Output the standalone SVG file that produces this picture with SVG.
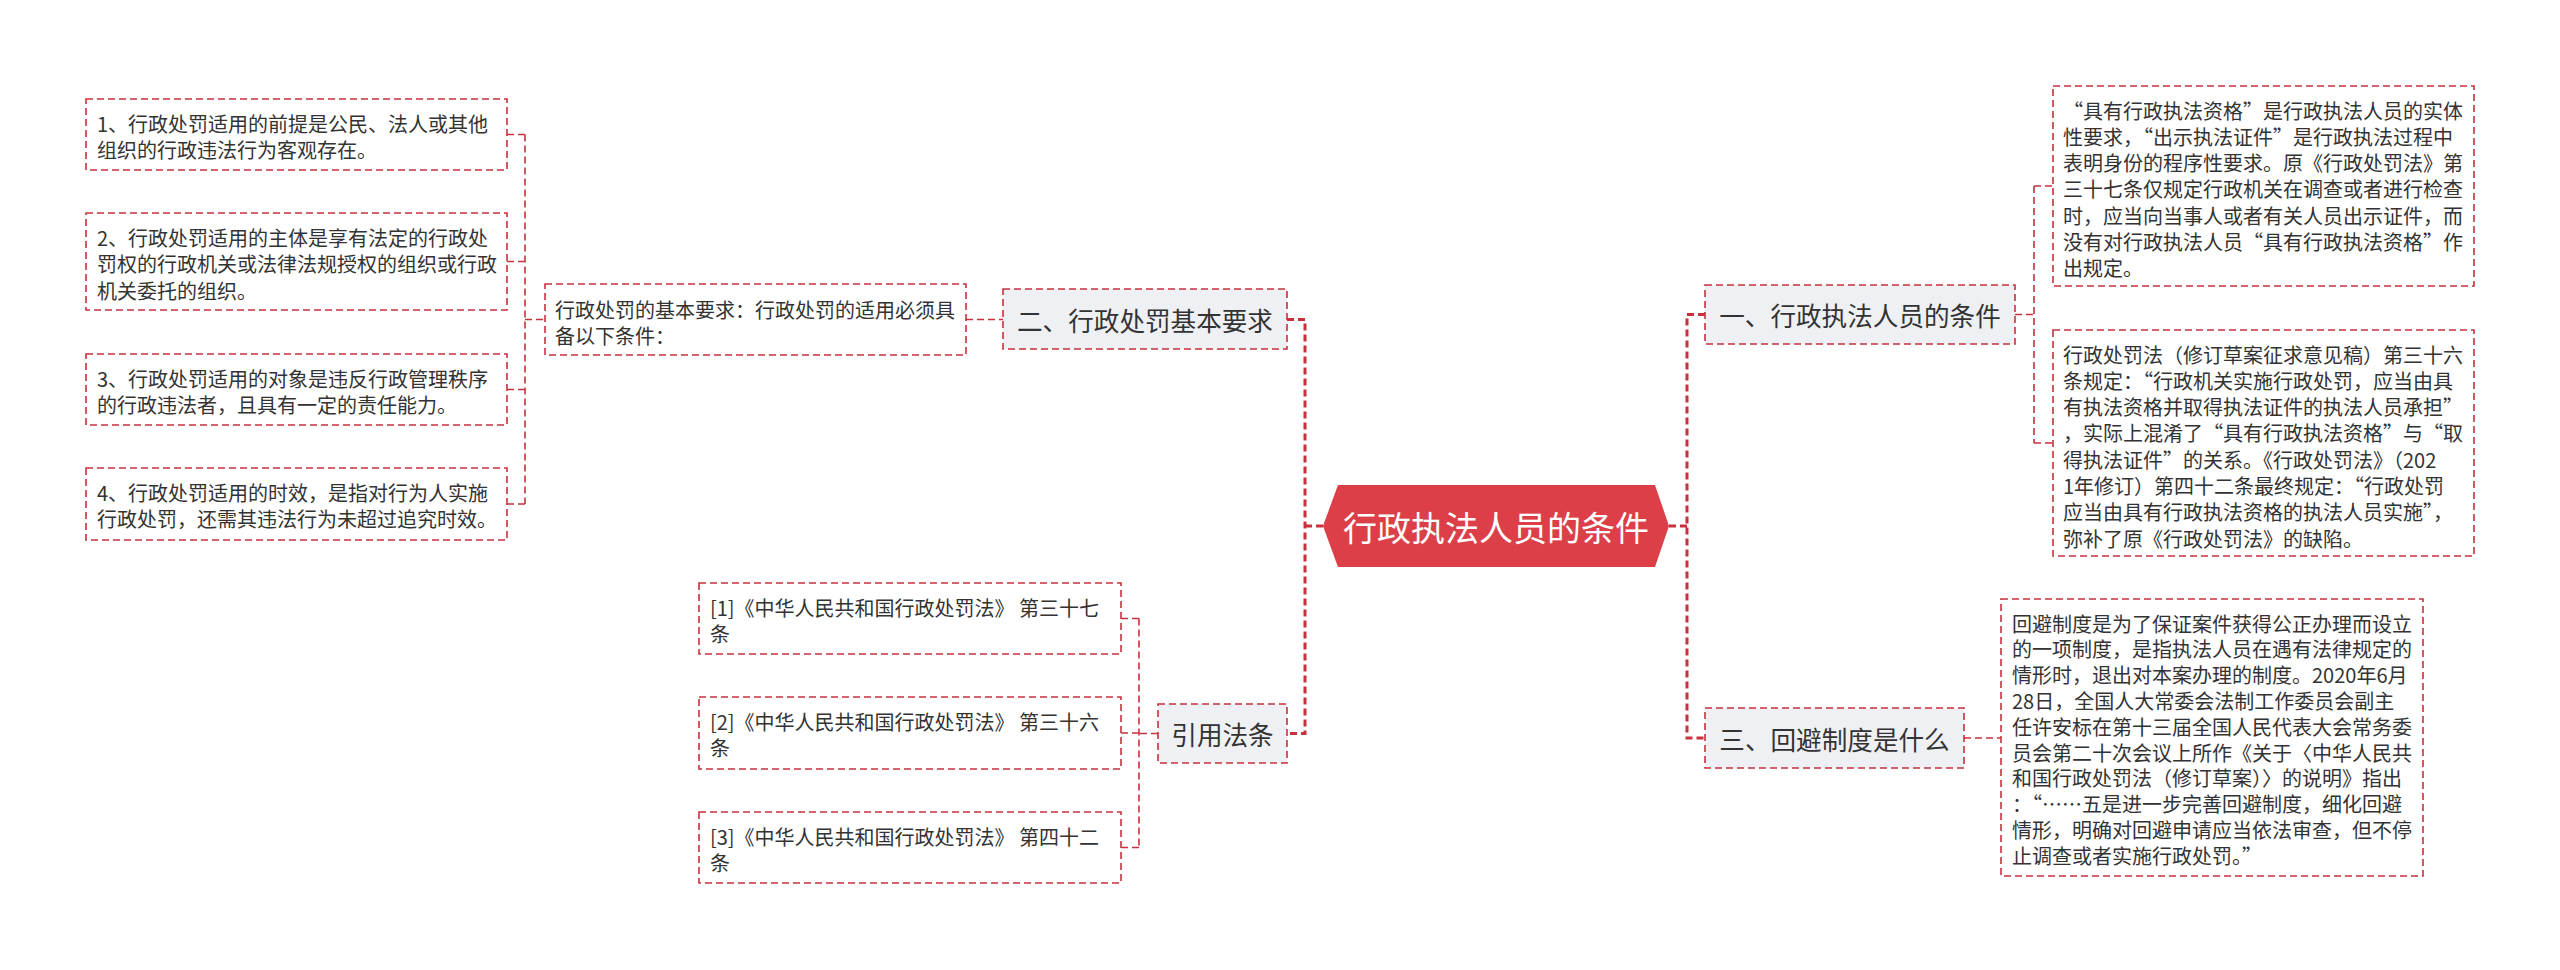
<svg xmlns="http://www.w3.org/2000/svg" width="2560" height="970" viewBox="0 0 2560 970">
<style>
text{font-family:"Noto Sans CJK SC","Noto Sans",sans-serif;fill:#333;dominant-baseline:central}
.box{fill:#fff;stroke:#c8313c;stroke-width:1.6;stroke-dasharray:7 4}
.lbl{fill:#eef0f4;stroke:#c8313c;stroke-width:1.6;stroke-dasharray:7 4}
.t{font-size:20px}
.h{font-size:25.6px;text-anchor:middle}
.c{stroke:#c8313c;stroke-width:1.6;stroke-dasharray:7 4;fill:none}
.m{stroke:#c8313c;stroke-width:3;stroke-dasharray:7 4;fill:none}
</style>
<rect width="2560" height="970" fill="#fff"/>
<g id="connectors">
<path class="c" d="M525 134.5V504M507 134.5H525M507 261.5H525M507 389.5H525M507 504H525M525 319.5H545"/>
<path class="c" d="M966 319.5H1003"/>
<path class="m" d="M1287 319.5H1305V733.5H1287M1305 526H1323"/>
<path class="c" d="M1158 733.5H1139M1139 618.5V847.5M1121 618.5H1139M1121 733H1139M1121 847.5H1139"/>
<path class="m" d="M1669 526H1687M1705 314.5H1687V738H1705"/>
<path class="c" d="M2015 314.5H2034M2034 186V443M2034 186H2053M2034 443H2053"/>
<path class="c" d="M1964 738H2001"/>
</g>
<g id="center">
<polygon points="1323,526 1338,485 1655,485 1669,526 1655,567 1338,567" fill="#dc3f47"/>
<text x="1496" y="526" font-size="34" text-anchor="middle" style="fill:#fff">行政执法人员的条件</text>
</g>
<g id="n-er">
<rect class="lbl" x="1003" y="289" width="284" height="60"/>
<text class="h" x="1145" y="319">二、行政处罚基本要求</text>
</g>
<g id="n-er-parent">
<rect class="box" x="545" y="284" width="421" height="71"/>
<text class="t" x="555" y="309">行政处罚的基本要求：行政处罚的适用必须具</text>
<text class="t" x="555" y="335.5">备以下条件：</text>
</g>
<g id="n-er-1">
<rect class="box" x="86" y="99" width="421" height="71"/>
<text class="t" x="97" y="123">1、行政处罚适用的前提是公民、法人或其他</text>
<text class="t" x="97" y="149.5">组织的行政违法行为客观存在。</text>
</g>
<g id="n-er-2">
<rect class="box" x="86" y="213" width="421" height="97"/>
<text class="t" x="97" y="237">2、行政处罚适用的主体是享有法定的行政处</text>
<text class="t" x="97" y="263.5">罚权的行政机关或法律法规授权的组织或行政</text>
<text class="t" x="97" y="290">机关委托的组织。</text>
</g>
<g id="n-er-3">
<rect class="box" x="86" y="354" width="421" height="71"/>
<text class="t" x="97" y="378">3、行政处罚适用的对象是违反行政管理秩序</text>
<text class="t" x="97" y="404.5">的行政违法者，且具有一定的责任能力。</text>
</g>
<g id="n-er-4">
<rect class="box" x="86" y="468" width="421" height="72"/>
<text class="t" x="97" y="492">4、行政处罚适用的时效，是指对行为人实施</text>
<text class="t" x="97" y="518.5">行政处罚，还需其违法行为未超过追究时效。</text>
</g>
<g id="n-yin">
<rect class="lbl" x="1158" y="704" width="129" height="59"/>
<text class="h" x="1222.5" y="733.5">引用法条</text>
</g>
<g id="n-ref-1">
<rect class="box" x="699" y="583" width="422" height="71"/>
<text class="t" x="710" y="607">[1]《中华人民共和国行政处罚法》 第三十七</text>
<text class="t" x="710" y="633.5">条</text>
</g>
<g id="n-ref-2">
<rect class="box" x="699" y="697" width="422" height="72"/>
<text class="t" x="710" y="721">[2]《中华人民共和国行政处罚法》 第三十六</text>
<text class="t" x="710" y="747.5">条</text>
</g>
<g id="n-ref-3">
<rect class="box" x="699" y="812" width="422" height="71"/>
<text class="t" x="710" y="836">[3]《中华人民共和国行政处罚法》 第四十二</text>
<text class="t" x="710" y="862.5">条</text>
</g>
<g id="n-yi">
<rect class="lbl" x="1705" y="285" width="310" height="59"/>
<text class="h" x="1860" y="314.5">一、行政执法人员的条件</text>
</g>
<g id="n-yi-1">
<rect class="box" x="2053" y="86" width="421" height="200"/>
<text class="t" x="2063" y="110">“具有行政执法资格”是行政执法人员的实体</text>
<text class="t" x="2063" y="136.3">性要求，“出示执法证件”是行政执法过程中</text>
<text class="t" x="2063" y="162.6">表明身份的程序性要求。原《行政处罚法》第</text>
<text class="t" x="2063" y="188.9">三十七条仅规定行政机关在调查或者进行检查</text>
<text class="t" x="2063" y="215.2">时，应当向当事人或者有关人员出示证件，而</text>
<text class="t" x="2063" y="241.5">没有对行政执法人员“具有行政执法资格”作</text>
<text class="t" x="2063" y="267.8">出规定。</text>
</g>
<g id="n-yi-2">
<rect class="box" x="2053" y="330" width="421" height="226"/>
<text class="t" x="2063" y="354">行政处罚法（修订草案征求意见稿）第三十六</text>
<text class="t" x="2063" y="380.3">条规定：“行政机关实施行政处罚，应当由具</text>
<text class="t" x="2063" y="406.6">有执法资格并取得执法证件的执法人员承担”</text>
<text class="t" x="2063" y="432.9">，实际上混淆了“具有行政执法资格”与“取</text>
<text class="t" x="2063" y="459.2">得执法证件”的关系。《行政处罚法》（202</text>
<text class="t" x="2063" y="485.5">1年修订）第四十二条最终规定：“行政处罚</text>
<text class="t" x="2063" y="511.8">应当由具有行政执法资格的执法人员实施”，</text>
<text class="t" x="2063" y="538.1">弥补了原《行政处罚法》的缺陷。</text>
</g>
<g id="n-san">
<rect class="lbl" x="1705" y="708" width="259" height="60"/>
<text class="h" x="1834.5" y="738">三、回避制度是什么</text>
</g>
<g id="n-san-1">
<rect class="box" x="2001" y="599" width="422" height="277"/>
<text class="t" x="2012" y="623">回避制度是为了保证案件获得公正办理而设立</text>
<text class="t" x="2012" y="648.8">的一项制度，是指执法人员在遇有法律规定的</text>
<text class="t" x="2012" y="674.6">情形时，退出对本案办理的制度。2020年6月</text>
<text class="t" x="2012" y="700.4">28日，全国人大常委会法制工作委员会副主</text>
<text class="t" x="2012" y="726.2">任许安标在第十三届全国人民代表大会常务委</text>
<text class="t" x="2012" y="752">员会第二十次会议上所作《关于〈中华人民共</text>
<text class="t" x="2012" y="777.8">和国行政处罚法（修订草案）〉的说明》指出</text>
<text class="t" x="2012" y="803.6">：“……五是进一步完善回避制度，细化回避</text>
<text class="t" x="2012" y="829.4">情形，明确对回避申请应当依法审查，但不停</text>
<text class="t" x="2012" y="855.2">止调查或者实施行政处罚。”</text>
</g>
</svg>
